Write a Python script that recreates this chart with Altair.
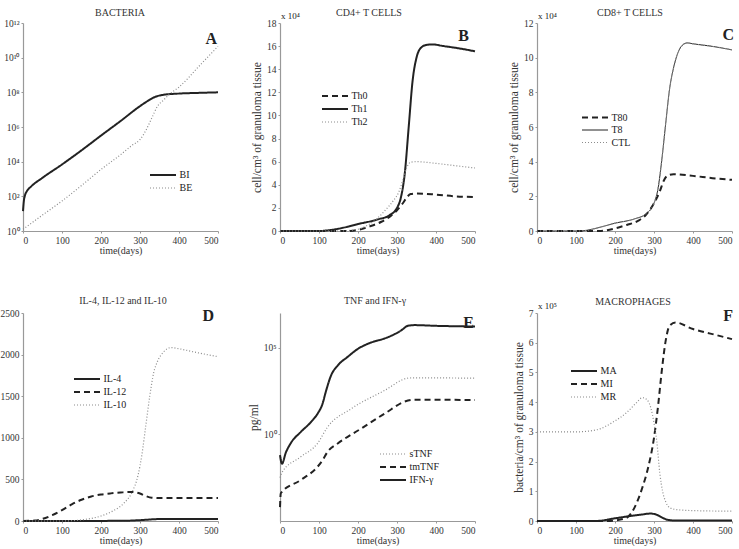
import altair as alt
import pandas as pd

FONT = "Liberation Serif"
INK = "#222222"
GREY = "#8c8c8c"

# ---------------- A: bacteria (log scale) ----------------
a_names = ["BI", "BE"]
bi_t = [0, 2, 5, 10, 20, 50, 100, 150, 200, 250, 300, 320, 340, 360, 400, 450, 500]
bi_v = [14, 50, 112, 200, 355, 1175, 6900, 4.5e4, 3.2e5, 2.2e6, 1.6e7, 3.2e7,
        5.6e7, 7.2e7, 8.5e7, 9.3e7, 1.0e8]
be_t = [0, 50, 100, 150, 200, 250, 280, 300, 315, 330, 345, 360, 375, 400, 450, 500]
be_v = [1.26, 8.3, 54, 420, 3550, 2.5e4, 8.9e4, 1.9e5, 6.3e5, 3.2e6, 1.6e7, 3.5e7,
        7.6e7, 2.0e8, 3.0e9, 4.5e10]

# ---------------- B: CD4+ T cells (x 10^4) ----------------
b_names = ["Th0", "Th1", "Th2"]
th0_t = [0, 170, 200, 230, 260, 280, 300, 315, 325, 335, 350, 400, 450, 500]
th0_v = [0, 0, 0.1, 0.4, 0.8, 1.2, 1.8, 2.4, 2.9, 3.2, 3.25, 3.15, 3.0, 2.95]
th1_t = [0, 100, 120, 150, 200, 250, 280, 300, 310, 320, 330, 340, 350, 360, 375,
         390, 420, 460, 500]
th1_v = [0, 0, 0.05, 0.2, 0.6, 1.0, 1.35, 2.0, 2.9, 5.0, 9.0, 13.0, 15.0, 15.8,
         16.1, 16.15, 16.0, 15.8, 15.55]
th2_t = [0, 150, 180, 200, 230, 250, 270, 290, 305, 315, 325, 335, 350, 400, 450, 500]
th2_v = [0, 0, 0.05, 0.15, 0.6, 1.1, 1.8, 2.6, 3.4, 4.4, 5.5, 5.95, 6.0, 5.85,
         5.65, 5.45]

# ---------------- C: CD8+ T cells (x 10^4) ----------------
c_names = ["T80", "T8", "CTL"]
t80_t = [0, 160, 200, 230, 260, 280, 300, 315, 325, 335, 350, 400, 450, 500]
t80_v = [0, 0, 0.15, 0.35, 0.6, 0.95, 1.6, 2.3, 2.9, 3.2, 3.28, 3.18, 3.05, 2.95]
t8_t = [0, 110, 130, 150, 200, 250, 280, 300, 310, 320, 330, 340, 350, 360, 370,
        385, 400, 450, 500]
t8_v = [0, 0, 0.05, 0.15, 0.45, 0.7, 1.0, 1.6, 2.4, 4.1, 6.2, 8.2, 9.4, 10.2,
        10.65, 10.85, 10.8, 10.65, 10.45]
ctl_t = t8_t
ctl_v = [0, 0, 0.05, 0.15, 0.45, 0.7, 1.0, 1.6, 2.4, 4.1, 6.2, 8.2, 9.4, 10.2,
         10.65, 10.85, 10.8, 10.65, 10.45]

# ---------------- D: interleukins ----------------
d_names = ["IL-4", "IL-12", "IL-10"]
il4_t = [0, 250, 300, 340, 360, 500]
il4_v = [0, 2, 10, 22, 25, 25]
il12_t = [0, 30, 50, 75, 100, 125, 150, 175, 200, 225, 250, 280, 300, 315, 330,
          350, 400, 500]
il12_v = [0, 5, 25, 70, 130, 200, 255, 295, 318, 332, 342, 350, 330, 300, 280,
          275, 275, 275]
il10_t = [0, 100, 130, 160, 200, 230, 260, 280, 295, 305, 315, 325, 335, 345, 360,
          380, 400, 450, 500]
il10_v = [0, 0, 5, 20, 60, 120, 220, 350, 550, 800, 1150, 1500, 1780, 1920, 2030,
          2085, 2070, 2020, 1975]

# ---------------- E: TNF and IFN-gamma (log scale) ----------------
e_names = ["sTNF", "tmTNF", "IFN-γ"]
stnf_t = [0, 5, 53, 96, 122, 182, 268, 328, 345, 500]
stnf_v = [3.2e-3, 6.3e-3, 0.05, 0.295, 2.63, 29.5, 339, 1740, 1820, 1740]
tmtnf_t = [0, 2, 53, 96, 109, 122, 148, 208, 268, 328, 345, 500]
tmtnf_v = [6.3e-5, 4.0e-4, 2.3e-3, 0.0132, 0.0316, 0.098, 0.295, 2.14, 15.5, 89,
           100, 95]
ifn_t = [0, 5, 15, 27, 53, 79, 96, 109, 118, 131, 148, 174, 199, 234, 268, 294,
         311, 328, 345, 400, 500]
ifn_v = [0.063, 0.02, 0.089, 0.295, 1.35, 5.0, 15.1, 57.5, 316, 2510, 9330, 3.02e4,
         8.32e4, 2.0e5, 3.39e5, 6.03e5, 1.0e6, 1.82e6, 2.0e6, 1.82e6, 1.66e6]

# ---------------- F: macrophages (x 10^5) ----------------
f_names = ["MA", "MI", "MR"]
ma_t = [0, 150, 200, 240, 270, 290, 305, 320, 335, 350, 500]
ma_v = [0, 0, 0.09, 0.17, 0.22, 0.25, 0.22, 0.12, 0.04, 0.02, 0.02]
mi_t = [0, 180, 200, 230, 250, 270, 285, 300, 310, 320, 330, 340, 355, 400, 450, 500]
mi_v = [0, 0, 0.02, 0.11, 0.45, 1.12, 1.8, 2.8, 3.82, 5.06, 6.07, 6.57, 6.68, 6.46,
        6.29, 6.12]
mr_t = [0, 100, 150, 200, 230, 255, 270, 282, 292, 300, 307, 315, 322, 330, 340,
        360, 400, 500]
mr_v = [3.0, 3.0, 3.06, 3.37, 3.65, 3.98, 4.15, 4.08, 3.8, 3.3, 2.7, 1.6, 1.0, 0.65,
        0.45, 0.38, 0.35, 0.33]

time_ticks = [0, 100, 200, 300, 400, 500]

STYLE = {
    "solid": (INK, [1, 0], 2.0),
    "thin": (INK, [1, 0], 1.0),
    "dash": (INK, [6, 4], 2.0),
    "dot": (GREY, [1, 2], 1.2),
}

W, H = 195, 208


def long_table(names, ts, vs):
    rows = []
    for name, tt, vv in zip(names, ts, vs):
        for t, v in zip(tt, vv):
            rows.append({"t": t, "v": v, "series": name})
    return pd.DataFrame(rows)


def sup_labels(max_exp):
    digits = "⁰¹²³⁴⁵⁶⁷⁸⁹"
    out = []
    for e in range(max_exp + 1):
        out.append("'10" + "".join(digits[int(c)] for c in str(e)) + "'")
    return "[" + ",".join(out) + "][round(log(datum.value)/LN10)]"


def note(text, x, y, size, weight="normal", align="left", color="#333333"):
    """A single piece of text placed in panel pixel coordinates."""
    return alt.Chart(pd.DataFrame({"label": [text]})).mark_text(
        font=FONT, fontSize=size, fontWeight=weight, align=align,
        baseline="alphabetic", color=color,
    ).encode(text="label:N", x=alt.value(x), y=alt.value(y))


def panel(df, names, styles, y_scale, y_axis, title, title_pos, letter,
          letter_pos, legend_pos, mult=None):
    colors = [STYLE[s][0] for s in styles]
    dashes = [STYLE[s][1] for s in styles]
    widths = [STYLE[s][2] for s in styles]
    leg = alt.Legend(
        orient="none", legendX=legend_pos[0], legendY=legend_pos[1], title=None,
        symbolType="M-2,0H2", symbolSize=169, labelOffset=9,
        labelFont=FONT, labelFontSize=10, labelColor=INK, rowPadding=0,
        padding=0,
    )
    lines = alt.Chart(df).mark_line(interpolate="monotone").encode(
        x=alt.X("t:Q", scale=alt.Scale(domain=[0, 500], nice=False),
                axis=alt.Axis(values=time_ticks, title="time(days)")),
        y=alt.Y("v:Q", scale=y_scale, axis=y_axis),
        color=alt.Color("series:N", scale=alt.Scale(domain=names, range=colors),
                        legend=leg),
        strokeDash=alt.StrokeDash("series:N",
                                  scale=alt.Scale(domain=names, range=dashes),
                                  legend=leg),
        strokeWidth=alt.StrokeWidth("series:N",
                                    scale=alt.Scale(type="ordinal", domain=names,
                                                    range=widths),
                                    legend=leg),
    )
    layers = [
        lines,
        note(title, title_pos[0], title_pos[1], 10, align="center"),
        note(letter, letter_pos[0], letter_pos[1], 16, weight="bold",
             align="right", color=INK),
    ]
    if mult is not None:
        layers.append(note(mult, 1, -4, 9, color=INK))
    return alt.layer(*layers).properties(width=W, height=H)


y_title_kw = dict(titleFontSize=11.5, titlePadding=4)

A = panel(
    long_table(a_names, [bi_t, be_t], [bi_v, be_v]), a_names, ["solid", "dot"],
    alt.Scale(type="log", domain=[1, 1e12], nice=False),
    alt.Axis(values=[10 ** k for k in range(0, 13, 2)], labelExpr=sup_labels(12),
             title=None),
    "BACTERIA", (97, -7), "A", (194, 21), (132.5, 144.5),
)
B = panel(
    long_table(b_names, [th0_t, th1_t, th2_t], [th0_v, th1_v, th2_v]), b_names,
    ["dash", "solid", "dot"],
    alt.Scale(domain=[0, 18], nice=False),
    alt.Axis(values=list(range(0, 19, 2)), title="cell/cm³ of granuloma tissue",
             **y_title_kw),
    "CD4+ T CELLS", (89, -7), "B", (189, 18), (47.5, 65.5), mult="x 10⁴",
)
C = panel(
    long_table(c_names, [t80_t, t8_t, ctl_t], [t80_v, t8_v, ctl_v]), c_names,
    ["dash", "thin", "dot"],
    alt.Scale(domain=[0, 12], nice=False),
    alt.Axis(values=list(range(0, 13, 2)), title="cell/cm³ of granuloma tissue",
             **y_title_kw),
    "CD8+ T CELLS", (93, -7), "C", (197, 17), (50.5, 87), mult="x 10⁴",
)
D = panel(
    long_table(d_names, [il4_t, il12_t, il10_t], [il4_v, il12_v, il10_v]), d_names,
    ["solid", "dash", "dot"],
    alt.Scale(domain=[0, 2500], nice=False),
    alt.Axis(values=list(range(0, 2501, 500)), format="d", title=None),
    "IL-4, IL-12 and IL-10", (100, -9), "D", (191, 8), (56.5, 58.5),
)
E = panel(
    long_table(e_names, [stnf_t, tmtnf_t, ifn_t], [stnf_v, tmtnf_v, ifn_v]), e_names,
    ["dot", "dash", "solid"],
    alt.Scale(type="log", domain=[1e-5, 1e7], nice=False),
    alt.Axis(values=[1, 1e5], labelExpr="datum.value < 10 ? '10⁰' : '10⁵'",
             title="pg/ml", **y_title_kw),
    "TNF and IFN-γ", (95, -9), "E", (194, 15), (105.5, 133.5),
)
F = panel(
    long_table(f_names, [ma_t, mi_t, mr_t], [ma_v, mi_v, mr_v]), f_names,
    ["solid", "dash", "dot"],
    alt.Scale(domain=[0, 7], nice=False),
    alt.Axis(values=list(range(0, 8)), title="bacteria/cm³ of granuloma tissue",
             **y_title_kw),
    "MACROPHAGES", (96, -8), "F", (196, 8), (39.5, 50.5), mult="x 10⁵",
)

indep = dict(x="independent", y="independent", color="independent",
             strokeDash="independent", strokeWidth="independent")

chart = alt.concat(
    A, B, C, D, E, F, columns=3, spacing={"row": 82, "column": 62},
    bounds="flush",
).resolve_scale(**indep).resolve_legend(
    color="independent", strokeDash="independent", strokeWidth="independent",
).properties(
    padding={"left": 0, "top": 8, "right": 0, "bottom": 0},
    background="white",
).configure_view(stroke=None).configure_axis(
    grid=False, domainColor="#999999", domainWidth=1.2, tickColor="#999999",
    tickSize=2, labelFont=FONT, labelFontSize=9.5, labelColor="#333333",
    labelPadding=2, titleFont=FONT, titleFontSize=10, titleFontWeight="normal",
    titleColor="#333333", titlePadding=1,
)

chart.save("out.html", embed_options={"renderer": "svg", "actions": False})
